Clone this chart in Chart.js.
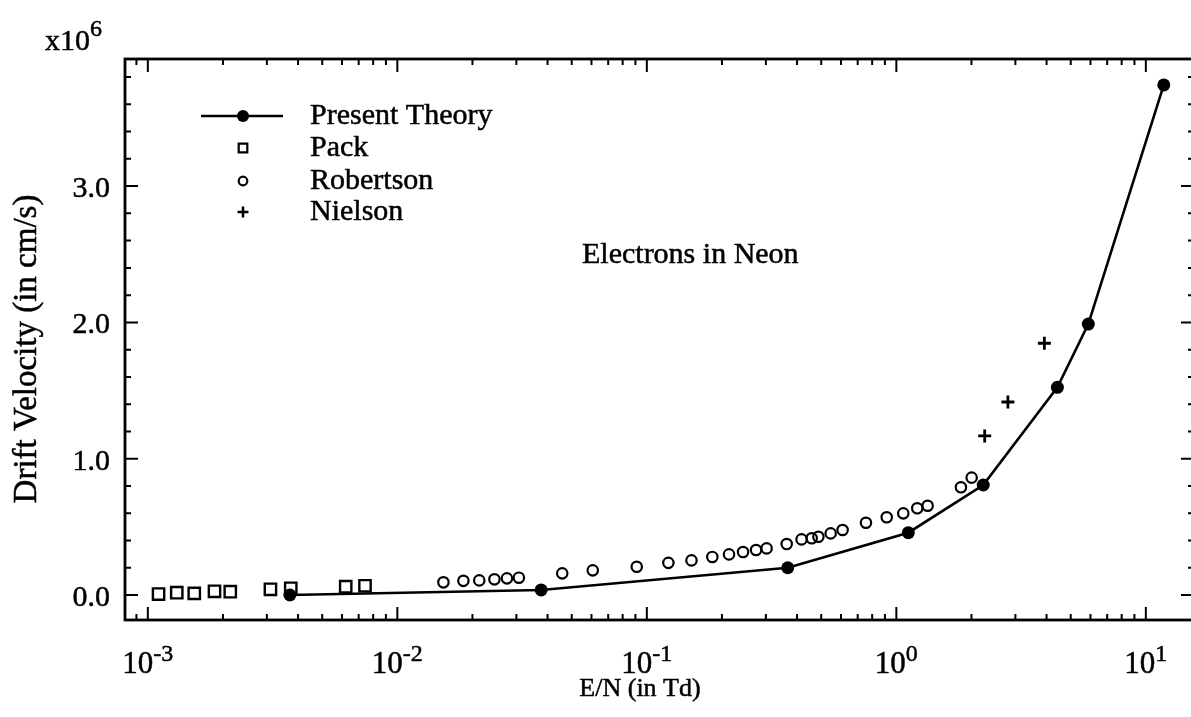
<!DOCTYPE html>
<html>
<head>
<meta charset="utf-8">
<script src="https://cdn.jsdelivr.net/npm/chart.js@4.4.1/dist/chart.umd.min.js"></script>
<style>
  html, body { margin: 0; padding: 0; background: #fff; overflow: hidden; }
  #wrap { width: 1191px; height: 717px; overflow: hidden; }
</style>
</head>
<body>
<div id="wrap"><canvas id="driftChart" width="1210" height="717"></canvas></div>
<script>
// E/N in Td, drift velocity in units of 10^6 cm/s
const theoryEN = [0.00371, 0.0377, 0.367, 1.117, 2.23, 4.42, 5.88, 11.8];
const theoryV = [0.0, 0.037, 0.200, 0.457, 0.807, 1.524, 1.988, 3.742];

const packEN = [0.001104, 0.001306, 0.001535, 0.00185, 0.00214, 0.0031, 0.00374, 0.00621, 0.00742];
const packV = [0.007, 0.017, 0.012, 0.027, 0.024, 0.042, 0.049, 0.061, 0.068];

const robertsonEN = [0.0153, 0.0184, 0.0213, 0.0245, 0.0275, 0.0307, 0.0458, 0.0607, 0.0911, 0.122,
  0.151, 0.183, 0.2135, 0.243, 0.274, 0.302, 0.3635, 0.417, 0.458, 0.487,
  0.5455, 0.609, 0.7555, 0.915, 1.066, 1.213, 1.335, 1.815, 2.004];
const robertsonV = [0.093, 0.104, 0.107, 0.115, 0.122, 0.127, 0.159, 0.181, 0.207, 0.236,
  0.254, 0.279, 0.298, 0.315, 0.330, 0.342, 0.374, 0.408, 0.416, 0.427,
  0.452, 0.477, 0.530, 0.570, 0.599, 0.636, 0.655, 0.790, 0.861];

const nielsonEN = [2.26, 2.80, 3.92];
const nielsonV = [1.167, 1.416, 1.847];

const xDecades = [-3, -2, -1, 0, 1];
const yMajorTicks = [0, 1, 2, 3];
const yTickLabels = ['0.0', '1.0', '2.0', '3.0'];
const legendLabels = ['Present Theory', 'Pack', 'Robertson', 'Nielson'];

const FONT = '"Liberation Serif", "Times New Roman", serif';

function toPoints(xs, ys) {
  return xs.map((x, i) => ({ x: x, y: ys[i] }));
}

// fill plus a thin stroke so the type looks as heavy as the scan
function inkText(ctx, t, x, y) {
  ctx.fillText(t, x, y);
  ctx.lineWidth = 0.5;
  ctx.strokeText(t, x, y);
}

// "10" with a raised exponent, anchored at x (center or left)
function drawPower(ctx, base, exp, x, y, align, baseSize, expSize, raise) {
  ctx.font = baseSize + 'px ' + FONT;
  const wb = ctx.measureText(base).width;
  ctx.font = expSize + 'px ' + FONT;
  const we = ctx.measureText(exp).width;
  const left = align === 'center' ? x - (wb + we) / 2 : x;
  ctx.textAlign = 'left';
  ctx.textBaseline = 'alphabetic';
  ctx.font = baseSize + 'px ' + FONT;
  inkText(ctx, base, left, y);
  ctx.font = expSize + 'px ' + FONT;
  inkText(ctx, exp, left + wb, y - raise);
}

function marker(ctx, style, x, y, r) {
  ctx.beginPath();
  if (style === 'dot') {
    ctx.arc(x, y, r, 0, Math.PI * 2);
    ctx.fill();
  } else if (style === 'rect') {
    ctx.rect(x - r, y - r, 2 * r, 2 * r);
    ctx.stroke();
  } else if (style === 'circle') {
    ctx.arc(x, y, r, 0, Math.PI * 2);
    ctx.stroke();
  } else if (style === 'cross') {
    ctx.moveTo(x - r, y); ctx.lineTo(x + r, y);
    ctx.moveTo(x, y - r); ctx.lineTo(x, y + r);
    ctx.stroke();
  }
}

const frameAndText = {
  id: 'frameAndText',
  afterDraw(chart) {
    const ctx = chart.ctx;
    const a = chart.chartArea;
    const xs = chart.scales.x;
    const ys = chart.scales.y;
    // the right edge of the frame sits just past the visible page, as in the scan
    const frameRight = a.right + 3;
    ctx.save();
    ctx.strokeStyle = '#000';
    ctx.fillStyle = '#000';

    // frame
    ctx.lineWidth = 2.8;
    ctx.strokeRect(a.left, a.top, frameRight - a.left, a.bottom - a.top);

    // x ticks (bottom and top, pointing inward)
    ctx.lineWidth = 2;
    ctx.beginPath();
    for (let k = -4; k <= 1; k++) {
      for (let m = 1; m <= 9; m++) {
        const v = m * Math.pow(10, k);
        if (v < xs.min || v > xs.max) continue;
        const px = xs.getPixelForValue(v);
        const len = m === 1 ? 13 : 6;
        ctx.moveTo(px, a.bottom); ctx.lineTo(px, a.bottom - len);
        ctx.moveTo(px, a.top); ctx.lineTo(px, a.top + len);
      }
    }
    // y ticks (left and right)
    for (let i = -1; i <= 19; i++) {
      const v = i * 0.2;
      if (v < ys.min || v > ys.max) continue;
      const py = ys.getPixelForValue(v);
      const len = i % 5 === 0 ? 13 : 6;
      ctx.moveTo(a.left, py); ctx.lineTo(a.left + len, py);
      ctx.moveTo(frameRight, py); ctx.lineTo(frameRight - len, py);
    }
    ctx.stroke();

    // y tick labels
    ctx.font = '30px ' + FONT;
    ctx.textAlign = 'right';
    ctx.textBaseline = 'middle';
    yMajorTicks.forEach((v, i) => {
      inkText(ctx, yTickLabels[i], a.left - 15, ys.getPixelForValue(v) + 3);
    });

    // x tick labels
    xDecades.forEach(e => {
      drawPower(ctx, '10', String(e), xs.getPixelForValue(Math.pow(10, e)), 673, 'center', 31, 24, 12);
    });

    // multiplier
    drawPower(ctx, 'x10', '6', 45, 50, 'left', 30, 24, 14);

    // axis titles
    ctx.font = '26px ' + FONT;
    ctx.textAlign = 'center';
    ctx.textBaseline = 'alphabetic';
    inkText(ctx, 'E/N (in Td)', 640, 696);

    ctx.save();
    ctx.translate(27, 349);
    ctx.rotate(-Math.PI / 2);
    ctx.font = '33px ' + FONT;
    ctx.textAlign = 'center';
    ctx.textBaseline = 'middle';
    inkText(ctx, 'Drift Velocity (in cm/s)', 0, 0);
    ctx.restore();

    // annotation
    ctx.font = '30px ' + FONT;
    ctx.textAlign = 'left';
    ctx.textBaseline = 'alphabetic';
    inkText(ctx, 'Electrons in Neon', 582, 263);

    // legend
    const rows = [116, 148, 181, 212];
    const mx = 243;
    ctx.lineWidth = 2.4;
    ctx.beginPath();
    ctx.moveTo(201, rows[0]); ctx.lineTo(283, rows[0]);
    ctx.stroke();
    marker(ctx, 'dot', mx, rows[0], 6);
    ctx.lineWidth = 2.2;
    marker(ctx, 'rect', mx, rows[1], 4.3);
    marker(ctx, 'circle', mx, rows[2], 4.3);
    ctx.lineWidth = 2.6;
    marker(ctx, 'cross', mx, rows[3], 5.5);
    ctx.font = '30px ' + FONT;
    ctx.textAlign = 'left';
    ctx.textBaseline = 'middle';
    legendLabels.forEach((t, i) => inkText(ctx, t, 310, rows[i]));

    ctx.restore();
  }
};

new Chart(document.getElementById('driftChart'), {
  type: 'scatter',
  data: {
    datasets: [
      {
        label: 'Present Theory',
        data: toPoints(theoryEN, theoryV),
        showLine: true,
        borderColor: '#000',
        borderWidth: 2.6,
        backgroundColor: '#000',
        pointStyle: 'circle',
        pointRadius: 6.5,
        pointBorderWidth: 0,
        pointBackgroundColor: '#000'
      },
      {
        label: 'Pack',
        data: toPoints(packEN, packV),
        pointStyle: 'rect',
        pointRadius: 8,
        pointBorderWidth: 2.4,
        pointBorderColor: '#000',
        pointBackgroundColor: 'rgba(0,0,0,0)'
      },
      {
        label: 'Robertson',
        data: toPoints(robertsonEN, robertsonV),
        pointStyle: 'circle',
        pointRadius: 5.2,
        pointBorderWidth: 2.2,
        pointBorderColor: '#000',
        pointBackgroundColor: 'rgba(0,0,0,0)'
      },
      {
        label: 'Nielson',
        data: toPoints(nielsonEN, nielsonV),
        pointStyle: 'cross',
        pointRadius: 6.5,
        pointBorderWidth: 2.8,
        pointBorderColor: '#000',
        pointBackgroundColor: '#000'
      }
    ]
  },
  options: {
    responsive: false,
    animation: false,
    devicePixelRatio: 1,
    layout: {
      // canvas is 1210 wide, so the plot area ends at x = 1191 (page edge)
      padding: { left: 125, top: 59, right: 19, bottom: 97 }
    },
    plugins: {
      legend: { display: false },
      tooltip: { enabled: false }
    },
    scales: {
      x: {
        type: 'logarithmic',
        display: false,
        bounds: 'data',
        min: 8.1e-4,
        max: 15.17
      },
      y: {
        type: 'linear',
        display: false,
        min: -0.1834,
        max: 3.9325
      }
    }
  },
  plugins: [frameAndText]
});
</script>
</body>
</html>
